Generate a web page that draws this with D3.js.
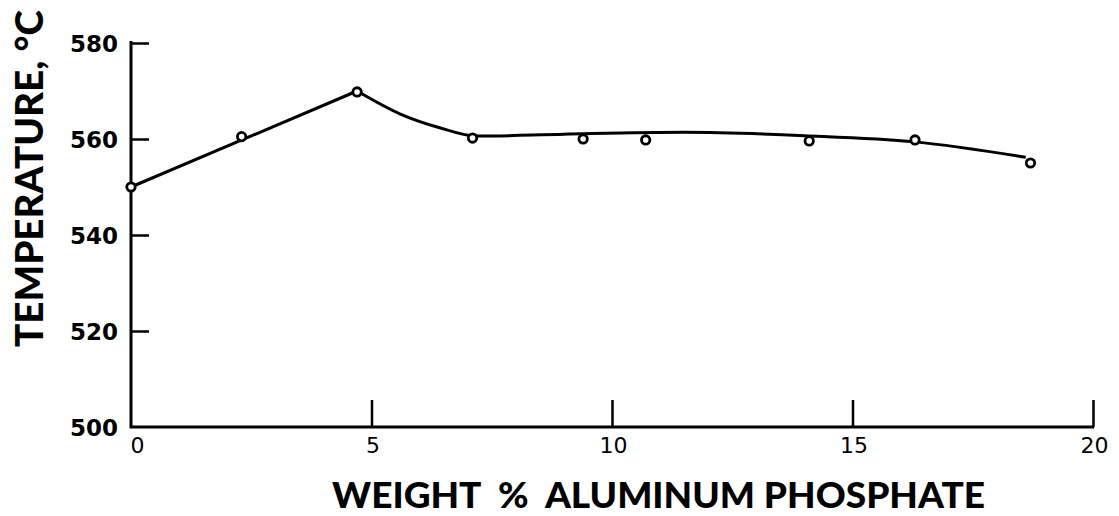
<!DOCTYPE html>
<html>
<head>
<meta charset="utf-8">
<script src="https://cdn.jsdelivr.net/npm/d3@7/dist/d3.min.js"></script>
<style>
  html, body { margin: 0; padding: 0; background: #fff; }
  svg { display: block; }
  text { fill: #000; }
</style>
</head>
<body>
<svg id="chart" width="1119" height="516"></svg>
<script>
// Measured data points (weight % AlPO4, temperature °C)
const pointX = [0, 2.3, 4.7, 7.1, 9.4, 10.7, 14.1, 16.3, 18.7];
const pointY = [550, 560.5, 569.8, 560.2, 560.0, 559.8, 559.6, 559.8, 555.0];

// Drawn trend line: straight rise, then smooth curve
const riseX = [0, 4.7];
const riseY = [550, 570];
const curveX = [4.7, 5.6, 6.4, 7.2, 9.0, 11.5, 14.0, 16.3, 18.6];
const curveY = [570, 565.2, 562.4, 560.6, 561.0, 561.4, 560.7, 559.4, 556.2];

const xTicks = [0, 5, 10, 15, 20];
const yTicks = [500, 520, 540, 560, 580];
const xTitle = "WEIGHT  %  ALUMINUM PHOSPHATE";
const yTitle = "TEMPERATURE, °C";

const svg = d3.select("#chart");
const x = d3.scaleLinear().domain([0, 20]).range([131, 1093]);
const y = d3.scaleLinear().domain([500, 580]).range([427, 43]);

const font = "Lato, 'DejaVu Sans', sans-serif";
const tickFont = "'DejaVu Sans', sans-serif";

// Y axis
const yAxis = svg.append("g")
  .attr("transform", `translate(${x(0)},0)`)
  .call(d3.axisLeft(y).tickValues(yTicks).tickSize(0).tickPadding(13).tickFormat(d3.format("d")));
yAxis.select(".domain").remove();
yAxis.selectAll(".tick text")
  .attr("font-family", tickFont).attr("font-weight", 700).attr("font-size", 23)
  .attr("dy", "0.36em");
yAxis.selectAll(".tick").filter(d => d !== 500).append("line")
  .attr("x1", 0).attr("x2", 18).attr("stroke", "#000").attr("stroke-width", 2.5);

// X axis
const xAxis = svg.append("g")
  .attr("transform", `translate(0,${y(500)})`)
  .call(d3.axisBottom(x).tickValues(xTicks).tickSize(0).tickPadding(10).tickFormat(d3.format("d")));
xAxis.select(".domain").remove();
xAxis.selectAll(".tick text")
  .attr("font-family", tickFont).attr("font-weight", 400).attr("font-size", 22)
  .attr("dx", d => d === 0 ? 6 : 1);
xAxis.selectAll(".tick").filter(d => d !== 0).append("line")
  .attr("y1", 0).attr("y2", -27).attr("stroke", "#000").attr("stroke-width", 2.5);

// Axis lines
svg.append("path")
  .attr("d", `M${x(0)},${y(580) - 2}V${y(500)}H${x(20) + 1}`)
  .attr("fill", "none").attr("stroke", "#000").attr("stroke-width", 3)
  .attr("stroke-linejoin", "miter");

// Trend line
const line = d3.line().x(d => x(d[0])).y(d => y(d[1]));
svg.append("path")
  .attr("d", line.curve(d3.curveLinear)(riseX.map((v, i) => [v, riseY[i]])))
  .attr("fill", "none").attr("stroke", "#000").attr("stroke-width", 3);
svg.append("path")
  .attr("d", line.curve(d3.curveMonotoneX)(curveX.map((v, i) => [v, curveY[i]])))
  .attr("fill", "none").attr("stroke", "#000").attr("stroke-width", 3);

// Data points
svg.append("g").selectAll("circle")
  .data(pointX.map((v, i) => [v, pointY[i]]))
  .join("circle")
  .attr("cx", d => x(d[0])).attr("cy", d => y(d[1]))
  .attr("r", 4.2).attr("fill", "#fff").attr("stroke", "#000").attr("stroke-width", 2.8);

// Titles
svg.append("text")
  .attr("x", 332).attr("y", 508)
  .attr("font-family", font).attr("font-weight", 900).attr("font-size", 36)
  .attr("textLength", 653).attr("lengthAdjust", "spacingAndGlyphs")
  .style("white-space", "pre")
  .text(xTitle);

svg.append("text")
  .attr("transform", "translate(43,347) rotate(-90)")
  .attr("x", 0).attr("y", 0)
  .attr("font-family", font).attr("font-weight", 900).attr("font-size", 38)
  .attr("textLength", 337).attr("lengthAdjust", "spacingAndGlyphs")
  .text(yTitle);
</script>
</body>
</html>
